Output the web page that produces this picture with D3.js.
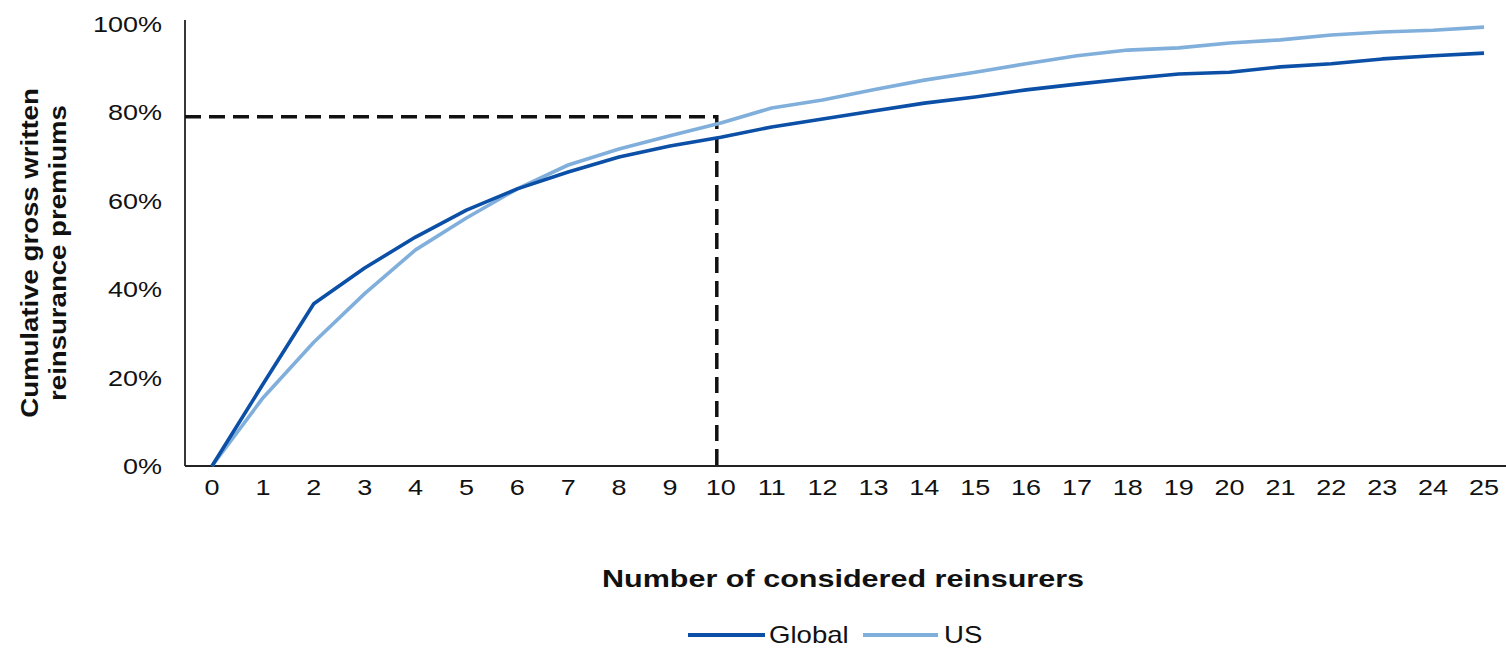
<!DOCTYPE html>
<html><head><meta charset="utf-8">
<script src="https://cdn.jsdelivr.net/npm/d3@7"></script>
<style>
html,body{margin:0;padding:0;background:#fff;}
svg{display:block;font-family:"Liberation Sans",Arial,sans-serif;}
</style></head>
<body>
<svg id="chart" width="1506" height="649"></svg>
<script>
const categories = d3.range(0, 26);
const globalValues = [0, 0.185, 0.367, 0.448, 0.518, 0.579, 0.627, 0.665, 0.699, 0.724, 0.744, 0.767, 0.785, 0.803, 0.821, 0.835, 0.851, 0.864, 0.876, 0.887, 0.891, 0.903, 0.910, 0.921, 0.928, 0.934];
const usValues     = [0, 0.154, 0.280, 0.390, 0.489, 0.561, 0.627, 0.681, 0.717, 0.747, 0.776, 0.810, 0.828, 0.851, 0.873, 0.891, 0.910, 0.928, 0.941, 0.946, 0.957, 0.964, 0.975, 0.982, 0.986, 0.993];
const yTicks = [0, 0.2, 0.4, 0.6, 0.8, 1.0];
const seriesNames = ["Global", "US"];
const seriesColors = ["#0b4fa6", "#80afdc"];
const markerX = 10, markerY = 0.79;

const svg = d3.select("#chart");
const x = d3.scaleLinear().domain([0, 25]).range([212, 1484]);
const y = d3.scaleLinear().domain([0, 1]).range([466, 24]);
const SX = 1.2;

// axes lines
svg.append("line").attr("x1", 185).attr("x2", 1506).attr("y1", y(0)).attr("y2", y(0))
  .attr("stroke", "#222").attr("stroke-width", 1.8);
svg.append("line").attr("x1", 185).attr("x2", 185).attr("y1", 20).attr("y2", y(0))
  .attr("stroke", "#222").attr("stroke-width", 1.8);

// y tick labels
svg.append("g").selectAll("text").data(yTicks).join("text")
  .attr("transform", d => `translate(162,${y(d) + 8}) scale(${SX},1)`)
  .attr("text-anchor", "end").attr("font-size", 22.5).attr("fill", "#111")
  .text(d => d3.format(".0%")(d));

// x tick labels
svg.append("g").selectAll("text").data(categories).join("text")
  .attr("transform", d => `translate(${x(d)},${495}) scale(${SX},1)`)
  .attr("text-anchor", "middle").attr("font-size", 22.5).attr("fill", "#111")
  .text(d => d);

// dashed reference lines
svg.append("path")
  .attr("d", `M185,${y(markerY)}H${x(markerX) - 4}V${y(0) + 6}`)
  .attr("fill", "none").attr("stroke", "#111").attr("stroke-width", 3.5)
  .attr("stroke-dasharray", "16,8");

// series lines
const line = d3.line().x((d, i) => x(categories[i])).y(d => y(d));
[usValues, globalValues].forEach((vals, k) => {
  const idx = k === 0 ? 1 : 0;
  svg.append("path").datum(vals).attr("d", line)
    .attr("fill", "none").attr("stroke", seriesColors[idx]).attr("stroke-width", 3.6)
    .attr("stroke-linejoin", "round");
});

// axis titles
svg.append("text")
  .attr("transform", `translate(843,587) scale(1.3,1)`)
  .attr("text-anchor", "middle").attr("font-size", 23.5).attr("font-weight", "bold").attr("fill", "#111")
  .text("Number of considered reinsurers");

const yt = svg.append("g").attr("transform", "translate(0,253) rotate(-90)");
yt.append("text").attr("transform", `translate(0,38) scale(${SX},1)`)
  .attr("text-anchor", "middle").attr("font-size", 23).attr("font-weight", "bold").attr("fill", "#111")
  .text("Cumulative gross written");
yt.append("text").attr("transform", `translate(0,66) scale(${SX},1)`)
  .attr("text-anchor", "middle").attr("font-size", 23).attr("font-weight", "bold").attr("fill", "#111")
  .text("reinsurance premiums");

// legend
const legend = [{x1: 688, x2: 765, tx: 769}, {x1: 863, x2: 938, tx: 944}];
legend.forEach((p, i) => {
  svg.append("line").attr("x1", p.x1).attr("x2", p.x2).attr("y1", 635).attr("y2", 635)
    .attr("stroke", seriesColors[i]).attr("stroke-width", 3.8);
  svg.append("text").attr("transform", `translate(${p.tx},643) scale(${SX},1)`)
    .attr("font-size", 23).attr("fill", "#111").text(seriesNames[i]);
});
</script>
</body></html>
